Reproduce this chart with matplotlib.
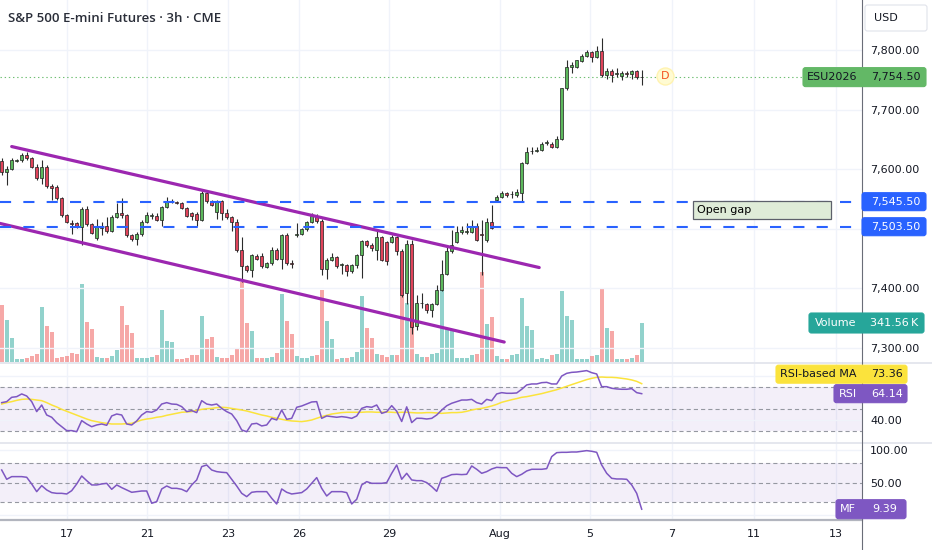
import numpy as np
import matplotlib
matplotlib.use("Agg")
import matplotlib.pyplot as plt
from matplotlib.patches import FancyBboxPatch, Rectangle
from matplotlib.lines import Line2D

plt.rcParams['font.family'] = ['DejaVu Sans']
plt.rcParams['lines.scale_dashes'] = False

# ---- data (3h bars, ESU2026) ----
opens = [7613, 7596, 7601, 7614, 7615, 7624, 7618, 7604, 7586, 7604,
         7571, 7570, 7551, 7523, 7510, 7509, 7503, 7534, 7508, 7484,
         7502, 7505, 7497, 7520, 7526, 7523, 7490, 7483, 7491, 7512,
         7522, 7522, 7515, 7537, 7546, 7545, 7543, 7535, 7526, 7525,
         7515, 7560, 7546, 7529, 7547, 7527, 7520, 7512, 7464, 7438,
         7431, 7454, 7454, 7436, 7442, 7464, 7449, 7490, 7442, 7490,
         7492, 7499, 7511, 7522, 7513, 7432, 7448, 7452, 7439, 7439,
         7430, 7439, 7456, 7480, 7472, 7464, 7486, 7478, 7478, 7486,
         7463, 7393, 7474, 7337, 7375, 7373, 7363, 7374, 7398, 7424,
         7462, 7478, 7494, 7495, 7495, 7504, 7492, 7481, 7512, 7549,
         7554, 7560, 7558, 7557, 7560, 7610, 7630, 7631, 7632, 7644,
         7643, 7637, 7650, 7736, 7772, 7772, 7782, 7790, 7797, 7788,
         7799, 7758, 7764, 7760, 7756, 7762, 7760, 7765, 7754]
highs = [7619, 7605, 7619, 7617, 7627, 7629, 7620, 7609, 7615, 7607,
         7576, 7573, 7553, 7525, 7515, 7511, 7537, 7538, 7510, 7516,
         7511, 7520, 7523, 7543, 7551, 7525, 7491, 7495, 7515, 7528,
         7527, 7526, 7539, 7553, 7550, 7547, 7545, 7537, 7529, 7528,
         7563, 7564, 7548, 7548, 7549, 7533, 7522, 7516, 7486, 7440,
         7458, 7458, 7459, 7444, 7470, 7468, 7492, 7493, 7448, 7509,
         7502, 7513, 7527, 7525, 7516, 7451, 7459, 7455, 7442, 7441,
         7441, 7458, 7481, 7481, 7476, 7498, 7488, 7480, 7490, 7488,
         7466, 7481, 7482, 7389, 7393, 7376, 7376, 7406, 7448, 7470,
         7498, 7504, 7504, 7509, 7515, 7509, 7515, 7518, 7540, 7557,
         7563, 7562, 7563, 7566, 7612, 7637, 7638, 7637, 7646, 7649,
         7646, 7656, 7737, 7783, 7780, 7784, 7793, 7800, 7799, 7806,
         7820, 7769, 7768, 7769, 7764, 7765, 7767, 7767, 7767]
lows = [7590, 7573, 7598, 7612, 7612, 7615, 7602, 7582, 7576, 7568,
        7548, 7548, 7520, 7510, 7492, 7501, 7473, 7505, 7491, 7481,
        7490, 7493, 7495, 7518, 7518, 7486, 7479, 7473, 7488, 7510,
        7516, 7513, 7505, 7535, 7543, 7541, 7533, 7520, 7515, 7505,
        7513, 7544, 7538, 7516, 7515, 7516, 7496, 7461, 7411, 7427,
        7419, 7448, 7434, 7434, 7440, 7447, 7432, 7439, 7434, 7486,
        7490, 7497, 7509, 7510, 7422, 7415, 7446, 7434, 7424, 7420,
        7425, 7435, 7417, 7469, 7463, 7448, 7446, 7439, 7476, 7456,
        7385, 7374, 7323, 7330, 7367, 7359, 7352, 7372, 7396, 7422,
        7460, 7476, 7492, 7492, 7493, 7479, 7423, 7478, 7500, 7545,
        7552, 7553, 7551, 7554, 7545, 7608, 7625, 7629, 7630, 7641,
        7635, 7635, 7649, 7733, 7761, 7769, 7780, 7788, 7780, 7786,
        7755, 7752, 7747, 7755, 7750, 7755, 7752, 7751, 7741]
closes = [7596, 7601, 7615, 7616, 7624, 7618, 7604, 7586, 7604, 7571,
          7568, 7551, 7523, 7512, 7508, 7503, 7534, 7508, 7493, 7503,
          7505, 7497, 7520, 7526, 7523, 7490, 7483, 7491, 7512, 7523,
          7523, 7515, 7537, 7547, 7547, 7543, 7535, 7522, 7521, 7515,
          7560, 7546, 7540, 7547, 7527, 7519, 7512, 7464, 7438, 7431,
          7456, 7450, 7438, 7442, 7464, 7449, 7490, 7442, 7441, 7492,
          7499, 7511, 7522, 7513, 7432, 7448, 7453, 7438, 7440, 7430,
          7439, 7456, 7480, 7472, 7467, 7486, 7448, 7446, 7486, 7463,
          7389, 7474, 7336, 7375, 7376, 7364, 7374, 7398, 7424, 7462,
          7473, 7494, 7498, 7496, 7503, 7482, 7490, 7512, 7502, 7554,
          7560, 7557, 7559, 7561, 7611, 7629, 7631, 7632, 7643, 7645,
          7637, 7650, 7736, 7772, 7774, 7783, 7790, 7797, 7788, 7799,
          7758, 7764, 7758, 7761, 7762, 7760, 7765, 7754, 7754.5]
volume_k = [497, 365, 214, 30, 30, 39, 50, 74, 482, 315,
            263, 39, 44, 50, 82, 74, 687, 350, 293, 44,
            39, 32, 50, 102, 488, 321, 254, 39, 39, 35,
            44, 65, 453, 184, 175, 26, 26, 32, 59, 65,
            400, 199, 219, 44, 35, 32, 65, 111, 701, 345,
            269, 39, 32, 32, 44, 79, 599, 356, 249, 53,
            35, 39, 50, 59, 634, 359, 201, 30, 35, 35,
            44, 88, 575, 298, 214, 74, 59, 44, 59, 65,
            584, 517, 365, 67, 44, 44, 74, 79, 628, 293,
            293, 35, 35, 35, 59, 74, 788, 330, 394, 50,
            30, 30, 59, 67, 558, 313, 278, 30, 39, 24,
            59, 74, 622, 400, 365, 30, 30, 30, 53, 65,
            643, 298, 269, 24, 30, 24, 35, 59, 341.56]
rsi = [55.9, 56.8, 60.8, 61.4, 63.9, 62.0, 56.8, 47.6, 53.7, 44.5,
       42.4, 37.4, 33.7, 30.1, 30.1, 29.1, 39.3, 36.2, 33.7, 35.3,
       36.2, 35.0, 43.6, 45.4, 44.5, 36.2, 35.3, 39.0, 44.5, 47.6,
       47.0, 49.1, 54.6, 55.9, 54.6, 54.3, 52.2, 47.6, 48.5, 46.7,
       57.7, 54.6, 53.7, 54.6, 50.6, 47.6, 45.4, 39.3, 30.7, 29.1,
       36.2, 36.8, 34.4, 35.3, 41.4, 39.9, 49.1, 40.5, 41.4, 51.6,
       52.8, 54.6, 56.5, 56.8, 41.4, 43.6, 43.0, 42.4, 43.0, 42.4,
       41.4, 43.6, 50.6, 52.2, 51.6, 53.7, 46.0, 47.5, 53.1, 48.0,
       38.5, 52.0, 37.5, 41.5, 41.4, 40.8, 41.4, 44.5, 49.0, 53.0,
       55.3, 56.8, 58.3, 58.3, 58.9, 55.9, 54.6, 58.9, 57.7, 63.9,
       65.1, 64.5, 64.5, 64.8, 68.2, 72.2, 73.1, 73.1, 74.3, 74.6,
       73.1, 73.1, 80.4, 82.9, 83.8, 84.1, 84.7, 85.4, 83.5, 82.3,
       70.6, 70.6, 69.1, 68.5, 68.2, 68.2, 68.8, 65.1, 64.14]
rsi_ma = [54.6, 55.9, 56.8, 58.0, 58.9, 59.2, 58.9, 58.3, 57.7, 55.9,
          53.7, 51.9, 49.7, 47.9, 46.0, 44.2, 42.4, 40.8, 39.3, 38.4,
          37.4, 36.8, 36.2, 36.2, 36.2, 36.5, 36.8, 38.4, 39.9, 40.8,
          41.4, 42.4, 43.0, 44.2, 45.1, 46.0, 47.0, 47.3, 47.6, 48.8,
          49.7, 50.3, 50.6, 51.3, 51.6, 51.3, 50.6, 50.0, 49.1, 48.2,
          47.0, 45.7, 44.5, 43.6, 42.4, 41.4, 40.5, 39.6, 39.0, 38.7,
          38.4, 39.0, 39.9, 41.4, 43.0, 44.2, 45.4, 46.0, 46.7, 47.0,
          47.0, 47.0, 47.0, 47.3, 47.3, 47.0, 47.0, 47.3, 47.0, 46.7,
          47.0, 47.0, 46.7, 46.4, 46.4, 46.7, 46.7, 46.4, 46.0, 46.4,
          46.7, 46.7, 47.0, 47.9, 49.1, 50.0, 50.6, 51.6, 52.8, 54.3,
          56.2, 57.4, 58.6, 59.6, 60.8, 61.4, 62.3, 63.2, 64.2, 65.4,
          66.6, 67.8, 69.4, 70.9, 72.5, 74.0, 75.5, 77.1, 78.3, 79.2,
          79.5, 79.2, 79.2, 78.9, 78.3, 77.7, 76.8, 75.5, 73.36]
mf = [69.7, 55.4, 59.5, 59.5, 59.5, 58.5, 48.2, 36.4, 45.6, 39.0,
      34.9, 33.8, 33.8, 32.8, 37.9, 48.2, 60.5, 53.3, 46.7, 46.7,
      48.2, 49.2, 40.0, 46.7, 42.6, 39.0, 35.4, 36.4, 37.4, 37.4,
      18.5, 21.0, 40.5, 45.1, 41.5, 41.5, 40.0, 36.4, 46.7, 54.4,
      74.9, 77.4, 69.7, 67.2, 66.2, 65.6, 55.4, 45.1, 33.8, 28.7,
      35.4, 36.4, 36.4, 36.4, 26.2, 17.4, 40.5, 35.4, 32.8, 33.8,
      34.9, 40.5, 49.2, 58.0, 41.5, 29.7, 36.4, 36.4, 36.4, 34.9,
      17.4, 24.6, 46.7, 51.8, 49.2, 49.2, 49.2, 50.3, 64.6, 77.4,
      55.4, 64.6, 54.4, 53.3, 53.3, 50.3, 44.1, 36.9, 56.9, 59.5,
      62.6, 63.1, 62.6, 63.1, 75.9, 70.8, 64.6, 67.2, 71.3, 73.8,
      73.3, 73.3, 64.6, 59.5, 63.1, 68.2, 70.8, 70.8, 70.8, 71.8,
      90.3, 96.4, 96.9, 96.9, 97.4, 97.4, 98.5, 99.5, 98.5, 96.9,
      77.4, 64.6, 56.9, 55.9, 55.9, 55.4, 46.7, 33.8, 9.39]

date_ticks = [13.06, 29.06, 45.26, 59.46, 77.46, 99.66, 117.66, 134.06, 150.46, 166.86]
date_labels = ['17', '21', '23', '26', '29', 'Aug', '5', '7', '11', '13']
price_levels = [7300, 7400, 7500, 7600, 7700, 7800]
price_labels_shown = [7300, 7400, 7600, 7700, 7800]
gap_levels = [7545.5, 7503.5]
channel_upper = [(2.0, 7638), (107.5, 7435)]
channel_lower = [(-0.34, 7509), (100.5, 7310)]
gap_box = [138.3, 165.9, 7516.3, 7547.2]   # x0, x1, low, high
event_d = (132.7, 7756)

opens, highs, lows, closes = map(np.array, (opens, highs, lows, closes))
n = len(closes)
bars = np.arange(n)
up = closes >= opens

W, H, PR = 932, 550, 862
GREEN, RED = '#5cb85c', '#e0435a'
GRID = '#f0f3fa'
TXT = '#131722'

fig = plt.figure(figsize=(W / 100, H / 100), dpi=100)


def frame(top, bottom):
    return [0, 1 - bottom / H, PR / W, (bottom - top) / H]


ax_vol = fig.add_axes(frame(0, 362))
ax = fig.add_axes(frame(0, 362), sharex=ax_vol)
ax.patch.set_visible(False)
ax_rsi = fig.add_axes(frame(364, 442), sharex=ax_vol)
ax_mf = fig.add_axes(frame(444, 519), sharex=ax_vol)

for a in (ax_vol, ax, ax_rsi, ax_mf):
    for s in a.spines.values():
        s.set_visible(False)
    a.tick_params(axis='x', bottom=False, labelbottom=False)
    a.tick_params(axis='y', left=False, labelleft=False, right=False, labelright=False)

ax_vol.set_xlim(-0.34, 172.06)
ax.set_ylim(7276.5, 7883.9)
ax_vol.set_ylim(0, 362 * 8.758)
ax_rsi.set_ylim(19.6, 91.5)
ax_mf.set_ylim(-5.7, 109.7)

# grid
for a in (ax_vol, ax_rsi, ax_mf):
    for t in date_ticks:
        a.axvline(t, color=GRID, lw=1, zorder=0)
for p in price_levels:
    ax.axhline(p, color=GRID, lw=1, zorder=0)

# volume
ax_vol.bar(bars, volume_k, width=0.8, color=np.where(up, '#26a69a', '#ef5350'),
           alpha=0.5, linewidth=0, zorder=1)

# candles
ax.vlines(bars, lows, highs, color='#2b2b2b', lw=0.8, zorder=2)
ax.bar(bars, np.maximum(np.abs(closes - opens), 1.2), bottom=np.minimum(opens, closes),
       width=0.66, color=np.where(up, GREEN, RED), edgecolor='#1e1e1e', linewidth=0.5, zorder=3)

# drawings
for line in (channel_upper, channel_lower):
    xs, ys = zip(*line)
    ax.plot(xs, ys, color='#9c27b0', lw=2.3, solid_capstyle='round', zorder=4)
for g in gap_levels:
    ax.axhline(g, color='#2962ff', lw=1.5, dashes=(8, 8.8), zorder=4)
ax.axhline(closes[-1], color='#4caf50', lw=0.8, ls=(0, (1, 2)), alpha=0.8, zorder=1)

ax.add_patch(Rectangle((gap_box[0], gap_box[2]), gap_box[1] - gap_box[0], gap_box[3] - gap_box[2],
                       facecolor='#dfecd8', edgecolor='#5d606b', lw=0.9, zorder=5))
ax.text(gap_box[0] + 0.7, (gap_box[2] + gap_box[3]) / 2, 'Open gap', fontsize=8, color='black',
        va='center', ha='left', zorder=6)

ax.scatter([event_d[0]], [event_d[1]], s=150, color='#fffbd2', edgecolor='#fff3b0', zorder=5)
ax.text(event_d[0], event_d[1], 'D', fontsize=8, color='#f4511e', ha='center', va='center', zorder=6)

ax.yaxis.tick_right()
ax.set_yticks(price_labels_shown)
ax.set_yticklabels([f'{p:,.2f}' for p in price_labels_shown])
ax.tick_params(axis='y', right=False, labelright=True, length=0, pad=5.8, labelsize=8, labelcolor=TXT)

# RSI pane
ax_rsi.axhspan(30, 70, color='#7e57c2', alpha=0.09, lw=0, zorder=0)
for lvl in (40, 80):
    ax_rsi.axhline(lvl, color=GRID, lw=1, zorder=0)
for lvl in (70, 50, 30):
    ax_rsi.axhline(lvl, color='#9598a1', lw=0.8, dashes=(3, 2.2), zorder=1)
ax_rsi.plot(bars, rsi_ma, color='#fbe33c', lw=1.1, zorder=2)
ax_rsi.plot(bars, rsi, color='#7e57c2', lw=1.1, zorder=3)
ax_rsi.yaxis.tick_right()
ax_rsi.set_yticks([40])
ax_rsi.set_yticklabels(['40.00'])
ax_rsi.tick_params(axis='y', right=False, labelright=True, length=0, pad=5.8, labelsize=8, labelcolor=TXT)

# MF pane
ax_mf.axhspan(20, 80, color='#7e57c2', alpha=0.09, lw=0, zorder=0)
for lvl in (0, 100):
    ax_mf.axhline(lvl, color=GRID, lw=1, zorder=0)
for lvl in (80, 50, 20):
    ax_mf.axhline(lvl, color='#9598a1', lw=0.8, dashes=(3, 2.2), zorder=1)
ax_mf.plot(bars, mf, color='#7e57c2', lw=1.1, zorder=3)
ax_mf.yaxis.tick_right()
ax_mf.set_yticks([50, 100])
ax_mf.set_yticklabels(['50.00', '100.00'])
ax_mf.tick_params(axis='y', right=False, labelright=True, length=0, pad=5.8, labelsize=8, labelcolor=TXT)
ax_mf.set_xticks(date_ticks)
ax_mf.set_xticklabels(date_labels)
ax_mf.tick_params(axis='x', labelbottom=True, length=0, pad=7.5, labelsize=8, labelcolor=TXT)

# frame lines
for yy, col, lw in ((363, '#e0e3eb', 1.2), (443, '#e0e3eb', 1.2)):
    fig.add_artist(Line2D([0, 1], [1 - yy / H] * 2, color=col, lw=lw))
fig.add_artist(Line2D([0, PR / W], [1 - 519.5 / H] * 2, color='#b2b5be', lw=1.6))
fig.add_artist(Line2D([PR / W] * 2, [0, 1], color='#6a6d78', lw=0.8))

fig.canvas.draw()


def ypix(a, v):
    return H - a.transData.transform((0, v))[1]


def tag(x0, x1, yc, h, fc, parts, ec=None):
    fig.add_artist(FancyBboxPatch((x0, H - yc - h / 2), x1 - x0, h,
                                  boxstyle='round,pad=0,rounding_size=2.5', transform=None,
                                  fc=fc, ec=ec or fc, lw=0.8, zorder=10))
    for x, s, c in parts:
        fig.text(x / W, 1 - yc / H, s, color=c, ha='center', va='center', fontsize=8, zorder=11)


tag(865, 927, 18, 26, 'white', [(886, 'USD', TXT)], ec='#e0e3eb')
tag(803, 926, ypix(ax, closes[-1]), 19, '#63b866',
    [(832, 'ESU2026', TXT), (896, f'{closes[-1]:,.2f}', TXT)])
for g in gap_levels:
    tag(862, 926, ypix(ax, g), 18, '#2962ff', [(896, f'{g:,.2f}', 'white')])
tag(809, 924, ypix(ax_vol, volume_k[-1]), 20, '#26a69a',
    [(836, 'Volume', 'white'), (894, f'{volume_k[-1]:.2f}\u2009K', 'white')])
y_rsi = ypix(ax_rsi, rsi[-1])
tag(776, 907, min(ypix(ax_rsi, rsi_ma[-1]), y_rsi - 19.5), 18, '#fbe33c',
    [(818, 'RSI-based MA', TXT), (887, f'{rsi_ma[-1]:.2f}', TXT)])
tag(834, 907, y_rsi, 18, '#7e57c2', [(848, 'RSI', 'white'), (887, f'{rsi[-1]:.2f}', 'white')])
tag(836, 906, ypix(ax_mf, mf[-1]), 19, '#7e57c2', [(848, 'MF', 'white'), (885, f'{mf[-1]:.2f}', 'white')])

fig.text(8 / W, 1 - 18 / H, 'S&P 500 E-mini Futures · 3h · CME', fontsize=9.5,
         family=['Open Sans', 'DejaVu Sans'], fontweight='semibold', color='#2a2e39',
         ha='left', va='center')

fig.savefig('out.png', dpi=100, facecolor='white')
